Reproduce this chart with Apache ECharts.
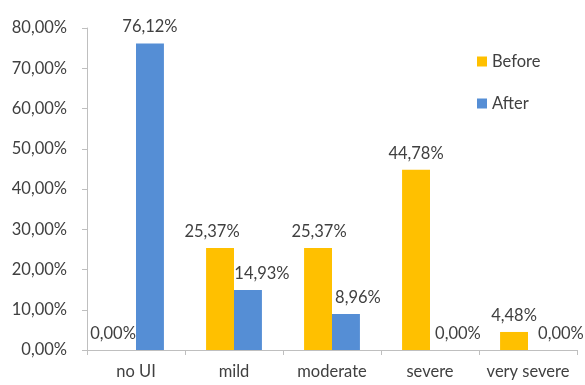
<!DOCTYPE html>
<html><head><meta charset="utf-8">
<script src="https://cdn.jsdelivr.net/npm/echarts@6/dist/echarts.min.js"></script>
<style>html,body{margin:0;padding:0;background:#fff}#c{width:585px;height:385px}</style>
</head><body><div id="c"></div>
<script>
var categories = ['no UI', 'mild', 'moderate', 'severe', 'very severe'];
var beforeValues = [0.00, 25.37, 25.37, 44.78, 4.48];
var afterValues = [76.12, 14.93, 8.96, 0.00, 0.00];
var seriesNames = ['Before', 'After'];

var fmt = function (v) { return v.toFixed(2).replace('.', ',') + '%'; };
// label horizontal nudges (Excel overlap avoidance)
var beforeNudge = [-9, -8, 1, 0, 0];
var afterNudge = [0, 14, 12, 14, 19];

function build(vals, nudge) {
  return vals.map(function (v, i) {
    return { value: v, label: { offset: [nudge[i], 0] } };
  });
}

var font = 'Lato, "Open Sans", sans-serif';
var fs = 16.5;
var chart = echarts.init(document.getElementById('c'));
chart.setOption({
  animation: false,
  textStyle: { fontFamily: font },
  grid: { left: 87, right: 8, top: 28, bottom: 35, containLabel: false },
  legend: {
    orient: 'vertical', left: 472, top: 48, itemGap: 25,
    itemWidth: 10, itemHeight: 10, icon: 'rect',
    textStyle: { fontSize: fs, color: '#404040', fontFamily: font },
    data: seriesNames
  },
  xAxis: {
    type: 'category', data: categories,
    axisLine: { lineStyle: { color: '#BFBFBF' } },
    axisTick: { show: true, length: 5, alignWithLabel: false, lineStyle: { color: '#BFBFBF' } },
    axisLabel: { interval: 0, hideOverlap: false, fontSize: fs, color: '#404040', margin: 13, fontFamily: font }
  },
  yAxis: {
    type: 'value', min: 0, max: 80, interval: 10,
    splitLine: { show: false },
    axisLine: { show: true, lineStyle: { color: '#BFBFBF' } },
    axisTick: { show: true, length: 5, lineStyle: { color: '#BFBFBF' } },
    axisLabel: { fontSize: fs, color: '#404040', margin: 20, fontFamily: font, formatter: fmt }
  },
  series: [
    {
      name: seriesNames[0], type: 'bar', data: build(beforeValues, beforeNudge),
      barGap: '0%', barCategoryGap: '43%',
      itemStyle: { color: '#FFC000' },
      label: { show: true, position: 'top', distance: 8, fontSize: fs, color: '#404040', fontFamily: font,
        formatter: function (p) { return fmt(p.value); } }
    },
    {
      name: seriesNames[1], type: 'bar', data: build(afterValues, afterNudge),
      barGap: '0%', barCategoryGap: '43%',
      itemStyle: { color: '#558ED5' },
      label: { show: true, position: 'top', distance: 8, fontSize: fs, color: '#404040', fontFamily: font,
        formatter: function (p) { return fmt(p.value); } }
    }
  ]
});
</script></body></html>
